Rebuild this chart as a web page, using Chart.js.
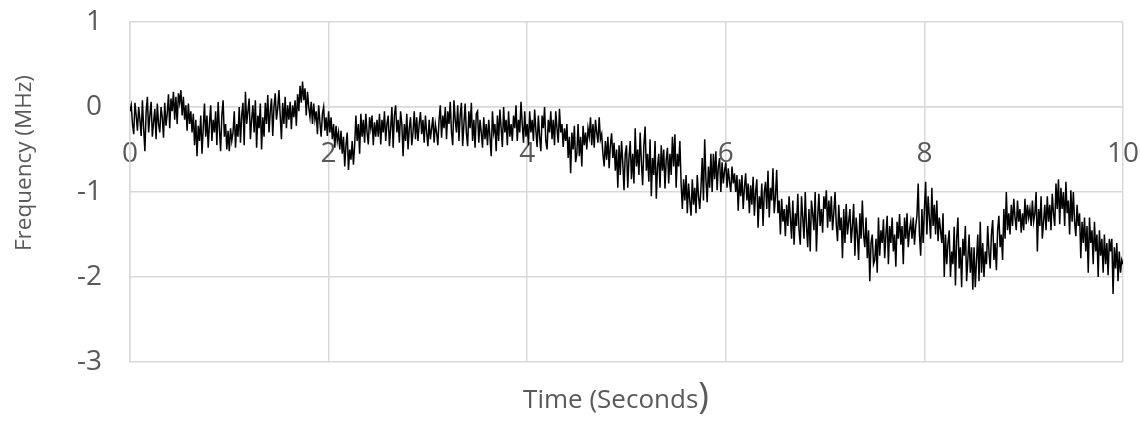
<!DOCTYPE html>
<html>
<head>
<meta charset="utf-8">
<script src="https://cdn.jsdelivr.net/npm/chart.js@4/dist/chart.umd.min.js"></script>
<style>
  html, body { margin: 0; padding: 0; background: #fff; }
  #wrap { width: 1140px; height: 434px; position: relative; }
</style>
</head>
<body>
<div id="wrap"><canvas id="freqChart"></canvas></div>
<script>
// sample spacing in seconds
const step = 0.0125;

// frequency readings (MHz), 40 samples per half second
const freq = [
  -0.05, 0.02, -0.20, -0.32, 0.05, -0.10, -0.28, 0.00, -0.15, -0.34, 0.08, -0.25, -0.52, -0.05, 0.12, -0.30, -0.10, 0.06, -0.35, -0.18,
  -0.02, -0.38, 0.04, -0.20, -0.30, 0.00, -0.12, -0.36, 0.05, -0.22, -0.08, 0.15, -0.25, 0.10, -0.05, 0.18, -0.15, 0.12, -0.20, 0.16,

  0.05, 0.20, -0.10, 0.12, -0.15, 0.02, -0.28, 0.04, -0.20, -0.05, -0.30, -0.08, -0.45, -0.15, -0.58, -0.22, -0.40, -0.10, -0.55, -0.25,
  0.04, -0.35, -0.10, -0.48, -0.20, 0.02, -0.40, -0.15, -0.30, -0.05, -0.45, 0.06, -0.25, -0.52, -0.10, 0.08, -0.35, -0.20, -0.50, -0.28,

  -0.52, -0.25, -0.40, -0.30, -0.05, -0.48, -0.20, -0.35, 0.00, -0.42, -0.10, 0.05, -0.45, 0.18, -0.20, -0.05, 0.10, -0.38, -0.15, 0.02,
  -0.30, 0.08, -0.48, -0.10, -0.25, 0.04, -0.50, -0.12, -0.35, 0.05, -0.20, 0.14, -0.30, -0.05, 0.10, -0.34, 0.00, 0.16, -0.15, -0.02,

  0.20, -0.10, -0.38, 0.05, -0.20, 0.12, -0.25, 0.02, -0.15, 0.06, -0.26, 0.02, -0.12, 0.08, -0.22, 0.15, -0.05, 0.25, 0.05, 0.30,
  0.08, 0.22, -0.10, 0.18, 0.00, -0.12, 0.06, -0.20, 0.04, -0.15, -0.05, -0.32, 0.02, -0.18, -0.35, -0.08, 0.00, -0.28, -0.12, -0.34,

  -0.05, -0.30, -0.12, -0.38, -0.20, -0.48, -0.22, -0.40, -0.30, -0.50, -0.28, -0.55, -0.35, -0.70, -0.45, -0.30, -0.74, -0.50, -0.62, -0.40,
  -0.68, -0.45, -0.10, -0.40, -0.20, -0.55, -0.08, -0.35, -0.15, -0.42, -0.08, -0.30, -0.44, -0.12, -0.25, -0.10, -0.45, -0.18, -0.35, -0.15,

  -0.35, -0.08, -0.44, -0.15, -0.30, -0.05, -0.40, -0.20, -0.10, -0.46, -0.25, 0.00, -0.48, -0.10, 0.02, -0.30, -0.15, -0.42, -0.05, -0.20,
  -0.58, -0.20, -0.40, -0.08, -0.50, -0.25, -0.12, -0.45, -0.30, -0.05, -0.38, -0.12, -0.40, -0.20, -0.06, -0.32, -0.15, -0.42, -0.10, -0.30,

  -0.46, -0.15, -0.38, -0.25, -0.12, -0.42, -0.20, -0.30, -0.45, -0.15, 0.02, -0.36, -0.10, -0.25, 0.00, -0.38, -0.05, -0.20, 0.06, -0.30,
  -0.45, 0.08, -0.15, -0.30, 0.02, -0.40, -0.10, 0.05, -0.46, -0.20, 0.04, -0.30, -0.46, -0.05, -0.25, 0.05, -0.40, -0.15, -0.48, -0.08,

  -0.05, -0.42, -0.15, -0.30, -0.48, -0.12, -0.38, -0.20, -0.45, -0.15, -0.35, -0.58, -0.05, -0.30, -0.20, -0.52, -0.10, -0.40, -0.03, -0.25,
  -0.47, 0.00, -0.30, -0.15, -0.45, -0.05, -0.35, -0.20, -0.40, -0.10, -0.25, 0.02, -0.40, -0.15, -0.30, 0.06, -0.20, -0.42, -0.05, -0.35,

  -0.20, -0.45, -0.05, -0.30, -0.15, -0.40, -0.03, -0.28, -0.47, -0.10, -0.35, -0.52, -0.10, -0.25, 0.00, -0.40, -0.50, -0.15, -0.30, -0.05,
  -0.38, -0.15, -0.45, -0.05, -0.25, -0.42, -0.02, -0.30, -0.20, -0.47, -0.25, -0.40, -0.20, -0.60, -0.35, -0.78, -0.30, -0.50, -0.22, -0.65,

  -0.55, -0.20, -0.58, -0.35, -0.70, -0.22, -0.45, -0.30, -0.50, -0.25, -0.35, -0.12, -0.45, -0.20, -0.48, -0.15, -0.30, -0.42, -0.12, -0.38,
  -0.32, -0.55, -0.70, -0.40, -0.62, -0.35, -0.72, -0.45, -0.31, -0.60, -0.42, -0.75, -0.50, -0.95, -0.45, -0.80, -0.40, -0.65, -0.98, -0.55,

  -0.45, -0.95, -0.60, -0.40, -0.85, -0.55, -0.90, -0.25, -0.70, -0.50, -0.80, -0.30, -0.65, -0.92, -0.45, -0.23, -0.75, -0.55, -0.88, -0.38,
  -1.05, -0.60, -0.80, -0.40, -1.08, -0.70, -0.55, -0.95, -0.45, -0.75, -0.50, -0.96, -0.62, -0.48, -0.90, -0.55, -0.80, -0.35, -0.70, -0.32,

  -0.95, -0.55, -0.70, -0.40, -0.90, -1.20, -0.85, -1.10, -0.80, -1.25, -0.90, -1.10, -1.28, -0.85, -1.15, -0.95, -1.25, -0.80, -1.05, -1.20,
  -0.95, -0.60, -1.10, -0.38, -0.85, -1.12, -0.70, -0.95, -0.55, -1.00, -0.55, -0.85, -0.52, -0.98, -0.70, -0.60, -1.00, -0.65, -0.90, -0.75,

  -0.65, -0.95, -0.72, -0.88, -1.00, -0.70, -0.90, -0.78, -1.00, -0.80, -1.22, -0.85, -1.05, -0.80, -1.20, -0.95, -0.78, -1.10, -0.90, -1.25,
  -0.92, -1.15, -0.82, -1.28, -1.00, -0.85, -1.42, -1.05, -1.20, -0.90, -1.40, -1.00, -0.88, -1.20, -0.75, -1.30, -0.95, -1.10, -0.72, -1.25,

  -1.05, -0.74, -1.25, -1.10, -1.50, -1.08, -1.35, -1.20, -1.52, -1.15, -1.40, -1.05, -1.30, -1.55, -1.10, -1.62, -1.25, -1.40, -1.02, -1.45,
  -1.62, -1.05, -1.30, -1.55, -1.00, -1.40, -1.65, -1.20, -1.70, -1.10, -1.25, -1.45, -1.00, -1.70, -1.30, -1.02, -1.40, -1.20, -1.48, -1.05,

  -1.20, -0.98, -1.42, -1.10, -1.35, -1.05, -1.45, -1.25, -1.00, -1.38, -1.58, -1.15, -1.45, -1.30, -1.78, -1.20, -1.60, -1.14, -1.50, -1.35,
  -1.20, -1.60, -1.40, -1.14, -1.75, -1.30, -1.50, -1.80, -1.25, -1.55, -1.10, -1.50, -1.65, -1.30, -1.78, -1.45, -2.05, -1.60, -1.50, -1.85,

  -1.80, -1.55, -1.95, -1.30, -1.75, -1.45, -1.60, -1.32, -1.78, -1.50, -1.28, -1.85, -1.40, -1.60, -1.30, -1.70, -1.50, -1.88, -1.35, -1.55,
  -1.26, -1.62, -1.40, -1.85, -1.30, -1.55, -1.25, -1.65, -1.45, -1.35, -1.55, -1.30, -1.62, -1.40, -1.28, -0.90, -1.50, -1.75, -1.20, -1.60,

  -1.20, -0.88, -1.50, -1.05, -1.30, -1.55, -0.95, -1.40, -1.15, -1.50, -1.10, -1.58, -1.30, -1.45, -1.60, -1.25, -2.00, -1.50, -1.85, -1.60,
  -1.45, -2.00, -1.70, -1.85, -1.41, -2.10, -1.55, -1.30, -1.90, -1.65, -2.12, -1.55, -1.75, -1.40, -2.05, -1.80, -1.50, -1.95, -1.65, -2.15,

  -1.65, -2.12, -1.80, -1.50, -2.05, -1.35, -1.95, -1.60, -2.00, -1.70, -1.85, -1.40, -1.70, -1.90, -1.50, -1.33, -1.80, -1.60, -1.92, -1.45,
  -1.28, -1.65, -1.50, -1.80, -1.20, -1.55, -1.00, -1.45, -1.25, -1.50, -1.15, -1.40, -1.08, -1.30, -1.45, -1.10, -1.35, -1.20, -1.48, -1.25,

  -1.45, -1.08, -1.38, -1.15, -1.30, -1.20, -1.40, -1.10, -1.35, -1.25, -1.00, -1.70, -1.20, -1.40, -1.05, -1.55, -1.35, -1.15, -1.45, -1.05,
  -1.35, -1.15, -1.45, -1.02, -1.25, -1.40, -0.90, -1.20, -0.85, -1.38, -0.95, -1.20, -1.00, -1.40, -0.88, -1.25, -1.10, -1.50, -0.98, -1.35,

  -1.00, -1.35, -1.52, -1.15, -1.40, -1.25, -1.78, -1.35, -1.60, -1.30, -1.70, -1.40, -1.95, -1.30, -1.60, -1.45, -1.85, -1.35, -1.70, -1.50,
  -2.00, -1.45, -1.75, -1.55, -1.95, -1.50, -1.85, -1.60, -1.98, -1.55, -1.70, -1.55, -2.20, -1.65, -1.90, -1.60, -2.05, -1.70, -1.95, -1.80,

  -1.85
];

const xTicks = [0, 2, 4, 6, 8, 10];
const yTicks = [-3, -2, -1, 0, 1];

const points = freq.map((v, i) => ({ x: +(i * step).toFixed(4), y: v }));

const textColor = '#595959';
const gridColor = '#d9d9d9';
const font = '"Open Sans", sans-serif';

// axis titles drawn by hand so the x title can keep its oversized closing paren
const axisTitles = {
  id: 'axisTitles',
  afterDraw(chart) {
    const ctx = chart.ctx;
    ctx.save();
    ctx.fillStyle = textColor;
    ctx.textBaseline = 'alphabetic';

    ctx.font = '26px ' + font;
    const main = 'Time (Seconds';
    const wMain = ctx.measureText(main).width;
    ctx.font = '36px ' + font;
    const wParen = ctx.measureText(')').width;
    const x = 616 - (wMain + wParen) / 2;
    ctx.textAlign = 'left';
    ctx.font = '26px ' + font;
    ctx.fillText(main, x, 408);
    ctx.font = '36px ' + font;
    ctx.fillText(')', x + wMain, 408);

    ctx.translate(31, 163);
    ctx.rotate(-Math.PI / 2);
    ctx.font = '22.5px ' + font;
    ctx.textAlign = 'center';
    ctx.fillText('Frequency (MHz)', 0, 0);
    ctx.restore();
  }
};

new Chart(document.getElementById('freqChart'), {
  type: 'line',
  data: {
    datasets: [{
      data: points,
      borderColor: '#000',
      borderWidth: 1.5,
      pointRadius: 0,
      tension: 0,
      fill: false
    }]
  },
  options: {
    responsive: true,
    maintainAspectRatio: false,
    animation: false,
    events: [],
    layout: { padding: { top: 22, right: 17, bottom: 72, left: 0 } },
    plugins: { legend: { display: false }, tooltip: { enabled: false } },
    scales: {
      x: {
        type: 'linear',
        position: { y: 0 },
        min: 0,
        max: 10,
        afterBuildTicks: s => { s.ticks = xTicks.map(v => ({ value: v })); },
        afterFit: s => { s.paddingLeft = 0; s.paddingRight = 0; },
        grid: { color: gridColor, lineWidth: 1.5, drawTicks: false },
        border: { color: gridColor, width: 1.5 },
        ticks: { color: textColor, font: { family: font, size: 28 }, padding: 30, maxRotation: 0, autoSkip: false }
      },
      y: {
        min: -3,
        max: 1,
        afterBuildTicks: s => { s.ticks = yTicks.map(v => ({ value: v })); },
        afterFit: s => { s.width = 130; s.paddingTop = 0; s.paddingBottom = 0; },
        grid: { color: gridColor, lineWidth: 1.5, drawTicks: false },
        border: { color: gridColor, width: 1.5 },
        ticks: { color: textColor, font: { family: font, size: 28 }, padding: 28 }
      }
    }
  },
  plugins: [axisTitles]
});
</script>
</body>
</html>
